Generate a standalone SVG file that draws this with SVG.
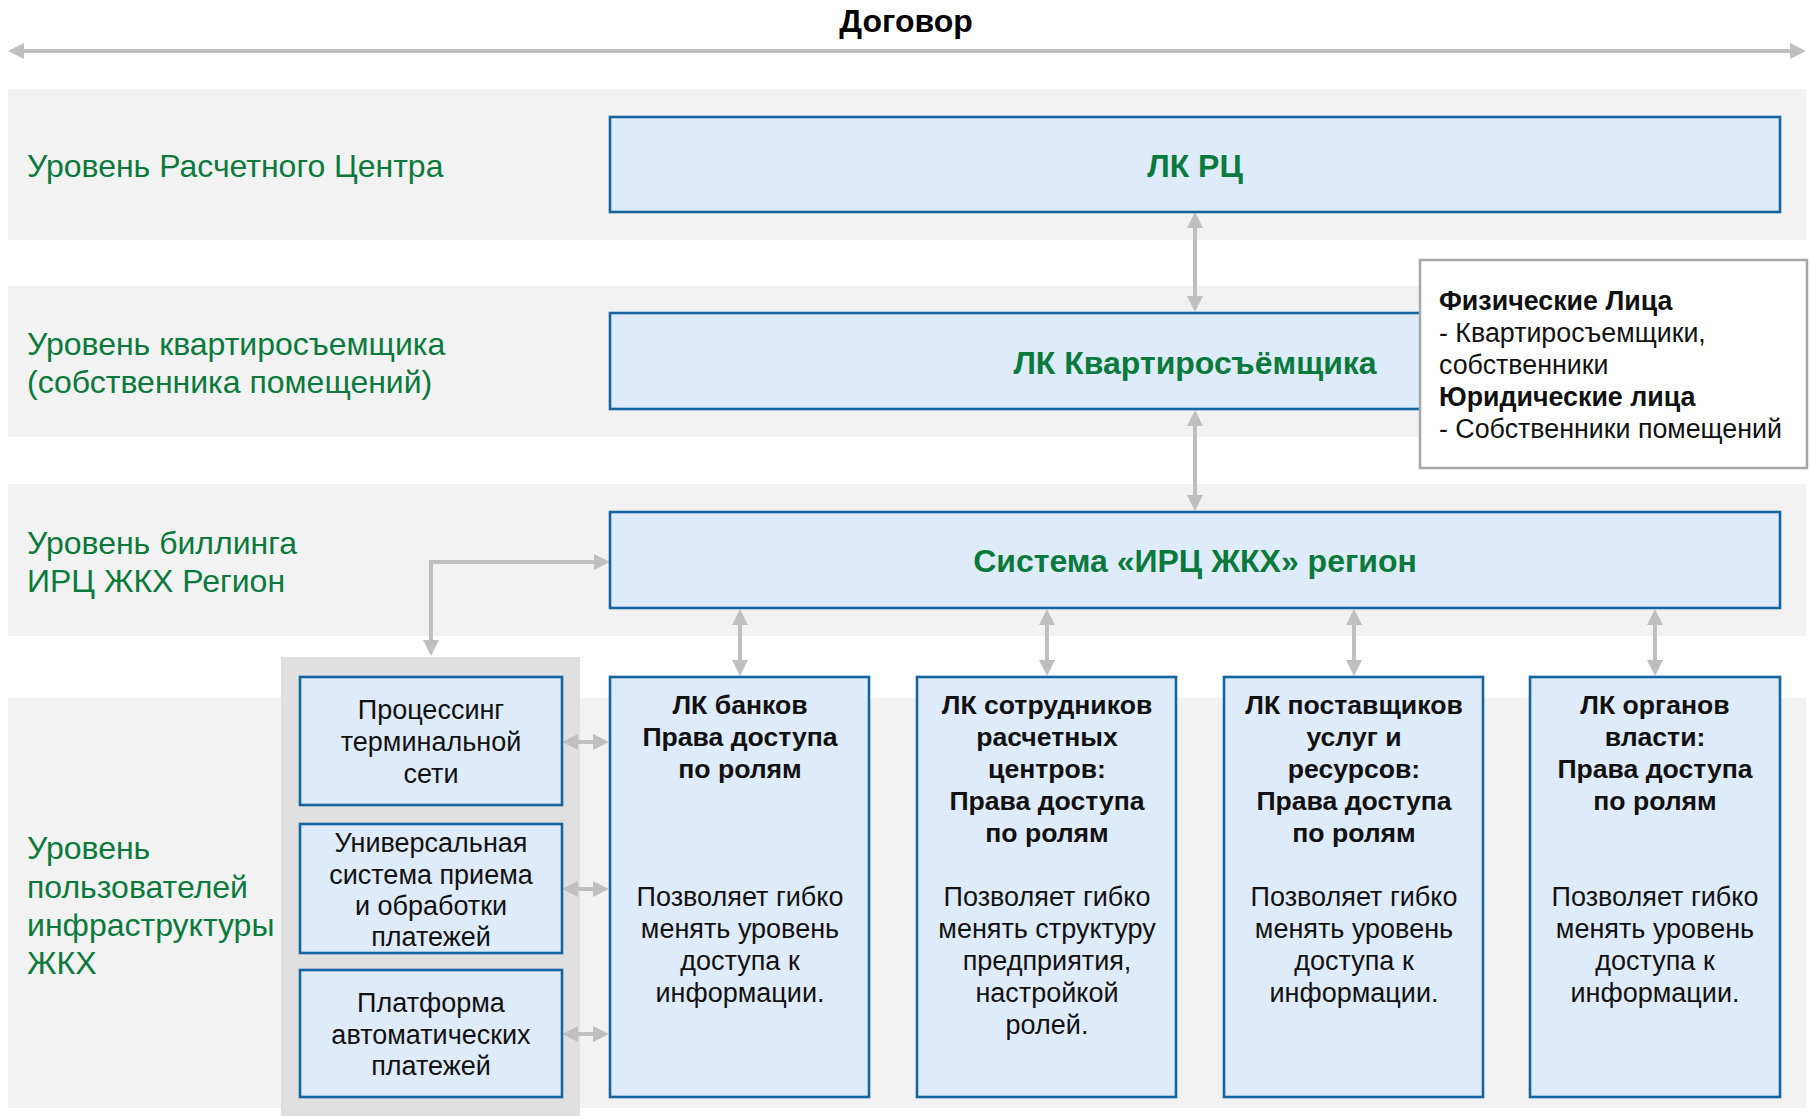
<svg xmlns="http://www.w3.org/2000/svg" width="1810" height="1116" viewBox="0 0 1810 1116">
<style>
text{font-family:"Liberation Sans",Arial,"Noto Sans",sans-serif;}
.band{fill:#F2F2F2;}
.panel{fill:#E0E0E0;}
.box{fill:#DEEBFA;stroke:#1565A0;stroke-width:2.6;}
.lvl{fill:#0A7A3C;font-size:32px;}
.ttl{fill:#0A7A3C;font-size:32px;font-weight:bold;text-anchor:middle;}
.bt{fill:#111;font-size:26.6px;font-weight:bold;text-anchor:middle;}
.bd{fill:#111;font-size:27px;text-anchor:middle;}
.info{fill:#111;font-size:26.8px;}
.con{fill:none;stroke:#BFBFBF;stroke-width:4;}
</style>
<defs>
<marker id="ah" markerUnits="userSpaceOnUse" markerWidth="18" markerHeight="16" refX="6" refY="8" orient="auto-start-reverse" viewBox="0 0 18 16">
<path d="M0,0 L16,8 L0,16 z" fill="#BFBFBF"/>
</marker>
</defs>

<g id="backgrounds">
<rect class="band" x="8" y="89" width="1798" height="151"/>
<rect class="band" x="8" y="286" width="1798" height="151"/>
<rect class="band" x="8" y="484" width="1798" height="152"/>
<rect class="band" x="8" y="698" width="1798" height="410"/>
<rect class="panel" x="281" y="657" width="299" height="459"/>
</g>

<g id="title">
<text x="906" y="32" font-size="32" font-weight="bold" text-anchor="middle" fill="#000">Договор</text>
</g>

<g id="levels">
<text class="lvl" x="27" y="177">Уровень Расчетного Центра</text>
<text class="lvl" x="27" y="355">Уровень квартиросъемщика</text>
<text class="lvl" x="27" y="393">(собственника помещений)</text>
<text class="lvl" x="27" y="554">Уровень биллинга</text>
<text class="lvl" x="27" y="592">ИРЦ ЖКХ Регион</text>
<text class="lvl" x="27" y="859">Уровень</text>
<text class="lvl" x="27" y="898">пользователей</text>
<text class="lvl" x="27" y="936">инфраструктуры</text>
<text class="lvl" x="27" y="974">ЖКХ</text>
</g>

<g id="connectors">
<line class="con" x1="18" y1="51" x2="1796" y2="51" marker-start="url(#ah)" marker-end="url(#ah)"/>
<line class="con" x1="1195" y1="222" x2="1195" y2="302" marker-start="url(#ah)" marker-end="url(#ah)"/>
<line class="con" x1="1195" y1="420" x2="1195" y2="501" marker-start="url(#ah)" marker-end="url(#ah)"/>
<line class="con" x1="740" y1="619" x2="740" y2="666" marker-start="url(#ah)" marker-end="url(#ah)"/>
<line class="con" x1="1047" y1="619" x2="1047" y2="666" marker-start="url(#ah)" marker-end="url(#ah)"/>
<line class="con" x1="1354" y1="619" x2="1354" y2="666" marker-start="url(#ah)" marker-end="url(#ah)"/>
<line class="con" x1="1655" y1="619" x2="1655" y2="666" marker-start="url(#ah)" marker-end="url(#ah)"/>
<path class="con" d="M431,646 L431,562 L600,562" marker-start="url(#ah)" marker-end="url(#ah)"/>
<line class="con" x1="572" y1="742" x2="599" y2="742" marker-start="url(#ah)" marker-end="url(#ah)"/>
<line class="con" x1="572" y1="889" x2="599" y2="889" marker-start="url(#ah)" marker-end="url(#ah)"/>
<line class="con" x1="572" y1="1034" x2="599" y2="1034" marker-start="url(#ah)" marker-end="url(#ah)"/>
</g>

<g id="lk-rc">
<rect class="box" x="610" y="117" width="1170" height="95"/>
<text class="ttl" x="1195" y="177">ЛК РЦ</text>
</g>

<g id="lk-tenant">
<rect class="box" x="610" y="313" width="1170" height="96"/>
<text class="ttl" x="1195" y="374">ЛК Квартиросъёмщика</text>
</g>

<g id="info">
<rect x="1420" y="260" width="387" height="208" fill="#FFFFFF" stroke="#A6A6A6" stroke-width="2.5"/>
<text class="info" x="1439" y="310" font-weight="bold">Физические Лица</text>
<text class="info" x="1439" y="342">- Квартиросъемщики,</text>
<text class="info" x="1439" y="374">собственники</text>
<text class="info" x="1439" y="406" font-weight="bold">Юридические лица</text>
<text class="info" x="1439" y="438">- Собственники помещений</text>
</g>

<g id="system">
<rect class="box" x="610" y="512" width="1170" height="96"/>
<text class="ttl" x="1195" y="572">Система «ИРЦ ЖКХ» регион</text>
</g>

<g id="processing">
<rect class="box" x="300" y="677" width="262" height="128"/>
<text class="bd" x="431" y="719">Процессинг</text>
<text class="bd" x="431" y="751">терминальной</text>
<text class="bd" x="431" y="783">сети</text>
</g>

<g id="universal">
<rect class="box" x="300" y="824" width="262" height="129"/>
<text class="bd" x="431" y="852">Универсальная</text>
<text class="bd" x="431" y="884">система приема</text>
<text class="bd" x="431" y="915">и обработки</text>
<text class="bd" x="431" y="946">платежей</text>
</g>

<g id="platform">
<rect class="box" x="300" y="970" width="262" height="127"/>
<text class="bd" x="431" y="1012">Платформа</text>
<text class="bd" x="431" y="1044">автоматических</text>
<text class="bd" x="431" y="1075">платежей</text>
</g>

<g id="lk-banks">
<rect class="box" x="610" y="677" width="259" height="420"/>
<text class="bt" x="740" y="714">ЛК банков</text>
<text class="bt" x="740" y="746">Права доступа</text>
<text class="bt" x="740" y="778">по ролям</text>
<text class="bd" x="740" y="906">Позволяет гибко</text>
<text class="bd" x="740" y="938">менять уровень</text>
<text class="bd" x="740" y="970">доступа к</text>
<text class="bd" x="740" y="1002">информации.</text>
</g>

<g id="lk-staff">
<rect class="box" x="917" y="677" width="259" height="420"/>
<text class="bt" x="1047" y="714">ЛК сотрудников</text>
<text class="bt" x="1047" y="746">расчетных</text>
<text class="bt" x="1047" y="778">центров:</text>
<text class="bt" x="1047" y="810">Права доступа</text>
<text class="bt" x="1047" y="842">по ролям</text>
<text class="bd" x="1047" y="906">Позволяет гибко</text>
<text class="bd" x="1047" y="938">менять структуру</text>
<text class="bd" x="1047" y="970">предприятия,</text>
<text class="bd" x="1047" y="1002">настройкой</text>
<text class="bd" x="1047" y="1034">ролей.</text>
</g>

<g id="lk-suppliers">
<rect class="box" x="1224" y="677" width="259" height="420"/>
<text class="bt" x="1354" y="714">ЛК поставщиков</text>
<text class="bt" x="1354" y="746">услуг и</text>
<text class="bt" x="1354" y="778">ресурсов:</text>
<text class="bt" x="1354" y="810">Права доступа</text>
<text class="bt" x="1354" y="842">по ролям</text>
<text class="bd" x="1354" y="906">Позволяет гибко</text>
<text class="bd" x="1354" y="938">менять уровень</text>
<text class="bd" x="1354" y="970">доступа к</text>
<text class="bd" x="1354" y="1002">информации.</text>
</g>

<g id="lk-authorities">
<rect class="box" x="1530" y="677" width="250" height="420"/>
<text class="bt" x="1655" y="714">ЛК органов</text>
<text class="bt" x="1655" y="746">власти:</text>
<text class="bt" x="1655" y="778">Права доступа</text>
<text class="bt" x="1655" y="810">по ролям</text>
<text class="bd" x="1655" y="906">Позволяет гибко</text>
<text class="bd" x="1655" y="938">менять уровень</text>
<text class="bd" x="1655" y="970">доступа к</text>
<text class="bd" x="1655" y="1002">информации.</text>
</g>
</svg>
